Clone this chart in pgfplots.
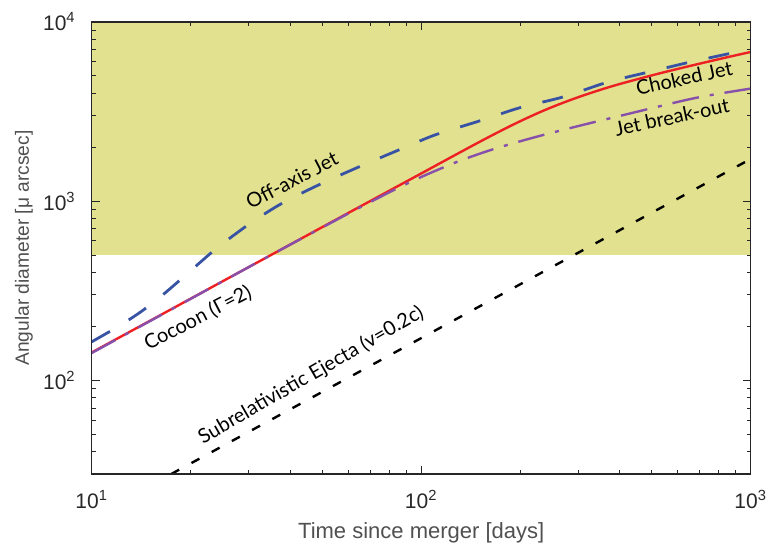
\documentclass[border=0pt]{standalone}
\usepackage{pgfplots}
\pgfplotsset{compat=1.18}
\usepackage{fontspec}
\setmainfont{Liberation Sans}
\newfontfamily\annot{Lato}
\definecolor{shade}{RGB}{225,225,143}
\definecolor{cred}{RGB}{237,32,36}
\definecolor{cblue}{RGB}{57,83,164}
\definecolor{cpurple}{RGB}{135,80,170}
\definecolor{tickgray}{RGB}{40,40,40}
\definecolor{labgray}{RGB}{80,80,80}
\begin{document}
\begin{tikzpicture}
\path[use as bounding box] (0,0) rectangle (383pt,275pt);
\begin{axis}[
  at={(45.85pt,38pt)}, anchor=south west,
  width=329.5pt, height=226pt, scale only axis,
  xmode=log, ymode=log,
  xmin=10, xmax=1000, ymin=30, ymax=10000,
  xtick={10,100,1000},
  xticklabels={10\textsuperscript{1},10\textsuperscript{2},10\textsuperscript{3}},
  ytick={100,1000,10000},
  yticklabels={10\textsuperscript{2},10\textsuperscript{3},10\textsuperscript{4}},
  minor xtick={20,30,40,50,60,70,80,90,200,300,400,500,600,700,800,900},
  minor ytick={40,50,60,70,80,90,200,300,400,500,600,700,800,900,2000,3000,4000,5000,6000,7000,8000,9000},
  xtick pos=both, ytick pos=both,
  tick align=inside,
  major tick length=4pt, minor tick length=2pt,
  axis line style={black!85, line width=0.6pt},
  every tick/.style={black!85, line width=0.5pt},
  tick label style={font=\fontsize{10.5}{12}\selectfont, text=tickgray},
  xticklabel style={yshift=-4.5pt},
  yticklabel style={xshift=-4.5pt},
  xlabel={Time since merger [days]},
  ylabel={Angular diameter [μ arcsec]},
  xlabel style={at={(axis description cs:0.5,-0.1305)}, anchor=center, font=\fontsize{11}{13}\selectfont, text=labgray},
  ylabel style={at={(axis description cs:-0.1027,0.5)}, anchor=center, rotate=0, font=\fontsize{9.6}{11}\selectfont, text=labgray},
  axis on top,
  clip=true,
]
\addplot[draw=none, fill=shade] coordinates {(10,500) (1000,500) (1000,10000) (10,10000)} -- cycle;

% Subrelativistic ejecta
\addplot[black, line width=1.2pt, dash pattern=on 4.5pt off 7pt] coordinates {(17.44,30) (1000,1720)};

% Off-axis jet
\addplot[cblue, line width=1.4pt, dash pattern=on 10.5pt off 11pt, smooth] coordinates {
(10,164) (12,199) (14,239) (16,288) (18,346) (20,410) (23,513) (26,613) (30,743) (35,894)
(40,1029) (50,1257) (65,1559) (85,1922) (110,2340) (150,2800) (200,3330) (270,3820)
(370,4630) (500,5300) (670,6030) (1000,7060)};

% Choked jet
\addplot[cred, line width=1.2pt, smooth] coordinates {
(10,143) (20,286) (40,572) (60,858) (80,1143) (100,1427) (125,1784) (150,2137) (175,2477)
(200,2797) (230,3146) (260,3452) (300,3807) (350,4184) (400,4504) (500,5030) (600,5470)
(700,5853) (800,6199) (900,6514) (1000,6802)};

% Jet break-out
\addplot[cpurple, line width=1.2pt, dash pattern=on 13.5pt off 5.5pt on 2pt off 5.5pt, smooth] coordinates {
(10,142) (30,429) (50,712) (65,920) (80,1120) (90,1246) (103.6,1404) (130,1671) (167,1960)
(223,2283) (306,2650) (436,3105) (624,3639) (751,3900) (1000,4250)};

\node[rotate=27.6, font=\annot\fontsize{10}{12}\selectfont] at (axis cs:40.5,1309) {Off-axis Jet};
\node[rotate=27.4, font=\annot\fontsize{10}{12}\selectfont] at (axis cs:21.0,222) {Cocoon (Γ=2)};
\node[rotate=30, font=\annot\fontsize{10}{12}\selectfont] at (axis cs:46.3,106.6) {Subrelativistic Ejecta (v=0.2c)};
\node[rotate=12.5, font=\annot\fontsize{10}{12}\selectfont] at (axis cs:628,4864) {Choked Jet};
\node[rotate=12, font=\annot\fontsize{10}{12}\selectfont] at (axis cs:577,2946) {Jet break-out};
\end{axis}
\end{tikzpicture}
\end{document}
